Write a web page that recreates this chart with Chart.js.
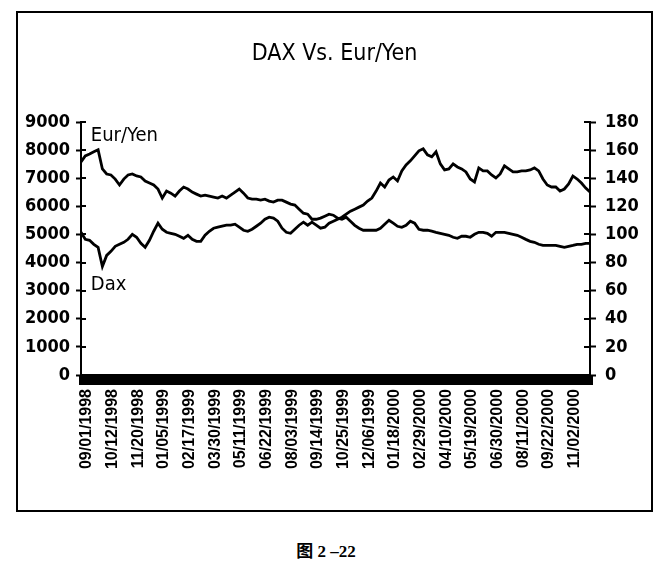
<!DOCTYPE html>
<html>
<head>
<meta charset="utf-8">
<script src="https://cdn.jsdelivr.net/npm/chart.js@4.4.1/dist/chart.umd.min.js"></script>
<style>
  html, body { margin: 0; padding: 0; background: #fff; width: 672px; height: 569px; overflow: hidden; }
  #frame { position: absolute; left: 16px; top: 11px; width: 633px; height: 497px; border: 2px solid #000; }
  #c { position: absolute; left: 0; top: 0; }
  #caption { position: absolute; left: 0; width: 652px; top: 537px; text-align: center;
    font: bold 17px 'Liberation Serif', 'Noto Sans CJK SC', serif; color: #000; }
</style>
</head>
<body>
<div id="frame"><canvas id="c" width="633" height="497"></canvas></div>
<div id="caption">图 2 –22</div>
<script>
// Tick labels shown on the category axis (every 6th weekly point)
const tickLabels = ['09/01/1998','10/12/1998','11/20/1998','01/05/1999','02/17/1999','03/30/1999',
  '05/11/1999','06/22/1999','08/03/1999','09/14/1999','10/25/1999','12/06/1999','01/18/2000',
  '02/29/2000','04/10/2000','05/19/2000','06/30/2000','08/11/2000','09/22/2000','11/02/2000'];

// Left (DAX) and right (Eur/Yen) axis tick values
const leftTickValues = [0,1000,2000,3000,4000,5000,6000,7000,8000,9000];
const rightTickValues = [0,20,40,60,80,100,120,140,160,180];

// Weekly DAX closes (left axis)
const daxValues = [5078,4828,4792,4649,4542,3862,4255,4398,4577,4649,
  4720,4828,5006,4899,4685,4542,4792,5114,5400,5185,
  5078,5042,5006,4935,4863,4971,4828,4756,4756,4971,
  5114,5221,5257,5292,5328,5328,5364,5257,5149,5114,
  5185,5292,5400,5543,5614,5579,5471,5221,5078,5042,
  5185,5328,5436,5328,5436,5328,5221,5257,5400,5471,
  5543,5614,5722,5829,5900,5972,6043,6186,6294,6544,
  6830,6687,6937,7045,6902,7259,7474,7617,7796,7974,
  8046,7831,7760,7939,7510,7295,7331,7510,7402,7331,
  7224,6973,6866,7367,7259,7259,7116,7009,7152,7438,
  7331,7224,7224,7259,7259,7295,7367,7259,6973,6759,
  6687,6687,6544,6616,6794,7080,6973,6830,6651,6508];

// Weekly Eur/Yen rates (right axis)
const eurYenValues = [151.6,155.9,157.3,158.8,160.2,146.6,143.0,142.3,139.4,135.2,
  139.4,142.3,143.0,141.6,140.9,138.0,136.6,135.2,132.3,125.9,
  130.9,129.4,127.3,130.9,133.7,132.3,130.1,128.7,127.3,128.0,
  127.3,126.6,125.9,127.3,125.9,128.0,130.1,132.3,129.4,125.9,
  125.1,125.1,124.4,125.1,123.7,123.0,124.4,124.4,123.0,121.6,
  120.9,118.0,115.1,114.4,110.8,110.8,111.6,113.0,114.4,113.7,
  111.6,110.8,112.3,109.4,106.5,104.4,103.0,103.0,103.0,103.0,
  104.4,107.3,110.1,108.0,105.8,105.1,106.5,109.4,108.0,103.7,
  103.0,103.0,102.3,101.5,100.8,100.1,99.4,98.0,97.3,98.7,
  98.7,98.0,100.1,101.5,101.5,100.8,98.7,101.5,101.5,101.5,
  100.8,100.1,99.4,98.0,96.5,95.1,94.4,93.0,92.2,92.2,
  92.2,92.2,91.5,90.8,91.5,92.2,93.0,93.0,93.7,93.7];

const seriesNames = ['Dax', 'Eur/Yen'];

const categories = daxValues.map((_, i) => (i % 6 === 0 ? tickLabels[i / 6] : ''));

const NARROW = "'Liberation Sans Narrow', 'DejaVu Sans Condensed', 'Liberation Sans', sans-serif";

const innerTicks = {
  id: 'innerTicks',
  afterDraw(chart) {
    const ctx = chart.ctx, a = chart.chartArea;
    ctx.save();
    ctx.strokeStyle = '#000';
    ctx.lineWidth = 2;
    chart.scales.y.ticks.forEach(t => {
      const p = Math.round(chart.scales.y.getPixelForValue(t.value));
      ctx.beginPath(); ctx.moveTo(a.left, p); ctx.lineTo(a.left + 5, p); ctx.stroke();
    });
    chart.scales.y1.ticks.forEach(t => {
      const p = Math.round(chart.scales.y1.getPixelForValue(t.value));
      ctx.beginPath(); ctx.moveTo(a.right - 6, p); ctx.lineTo(a.right, p); ctx.stroke();
    });
    // series name labels near the start of each line
    ctx.fillStyle = '#000';
    ctx.font = "20px " + NARROW;
    ctx.textAlign = 'left';
    ctx.textBaseline = 'alphabetic';
    const xs = chart.scales.x, ys = chart.scales.y;
    ctx.fillText(seriesNames[1], xs.getPixelForValue(2.3), ys.getPixelForValue(8340));
    ctx.fillText(seriesNames[0], xs.getPixelForValue(2.3), ys.getPixelForValue(3040));
    ctx.restore();
  }
};

const fixTicks = vals => s => { s.ticks = vals.map(v => ({ value: v })); };

new Chart(document.getElementById('c'), {
  type: 'line',
  data: {
    labels: categories,
    datasets: [
      { label: seriesNames[0], data: daxValues, yAxisID: 'y', borderColor: '#000', borderWidth: 2.8,
        pointRadius: 0, tension: 0, fill: false },
      { label: seriesNames[1], data: eurYenValues, yAxisID: 'y1', borderColor: '#000', borderWidth: 2.8,
        pointRadius: 0, tension: 0, fill: false }
    ]
  },
  options: {
    responsive: false,
    animation: false,
    devicePixelRatio: 1,
    layout: { padding: 0 },
    plugins: {
      legend: { display: false },
      tooltip: { enabled: false },
      title: {
        display: true, text: 'DAX Vs. Eur/Yen', color: '#000',
        font: { family: NARROW, size: 23, weight: 'normal', lineHeight: 1.2 },
        padding: { top: 27, bottom: 54.4 }
      }
    },
    scales: {
      x: {
        type: 'category',
        afterFit: s => { s.height = 135; },
        border: { display: true, color: '#000', width: 2 },
        grid: { display: true, drawOnChartArea: false, drawTicks: true, tickLength: 10,
                tickWidth: 5, tickColor: '#000', color: '#000' },
        ticks: {
          autoSkip: false, minRotation: 90, maxRotation: 90, padding: 4, labelOffset: 6, color: '#000',
          font: { family: "'Liberation Sans', Arial, sans-serif", size: 16, weight: 'bold' },
          callback: (v, i) => categories[i]
        }
      },
      y: {
        position: 'left', min: leftTickValues[0], max: leftTickValues[leftTickValues.length - 1],
        afterFit: s => { s.width = 63; },
        afterBuildTicks: fixTicks(leftTickValues),
        border: { display: true, color: '#000', width: 2 },
        grid: { display: true, drawOnChartArea: false, tickLength: 5, tickWidth: 2, tickColor: '#000' },
        ticks: { padding: 6, color: '#000', callback: v => String(v),
                 font: { family: NARROW, size: 18, weight: 'bold', lineHeight: 1 } }
      },
      y1: {
        position: 'right', min: rightTickValues[0], max: rightTickValues[rightTickValues.length - 1],
        afterFit: s => { s.width = 61; },
        afterBuildTicks: fixTicks(rightTickValues),
        border: { display: true, color: '#000', width: 2 },
        grid: { display: true, drawOnChartArea: false, tickLength: 6, tickWidth: 2, tickColor: '#000' },
        ticks: { padding: 9, color: '#000', callback: v => String(v),
                 font: { family: NARROW, size: 18, weight: 'bold', lineHeight: 1 } }
      }
    }
  },
  plugins: [innerTicks]
});
</script>
</body>
</html>
